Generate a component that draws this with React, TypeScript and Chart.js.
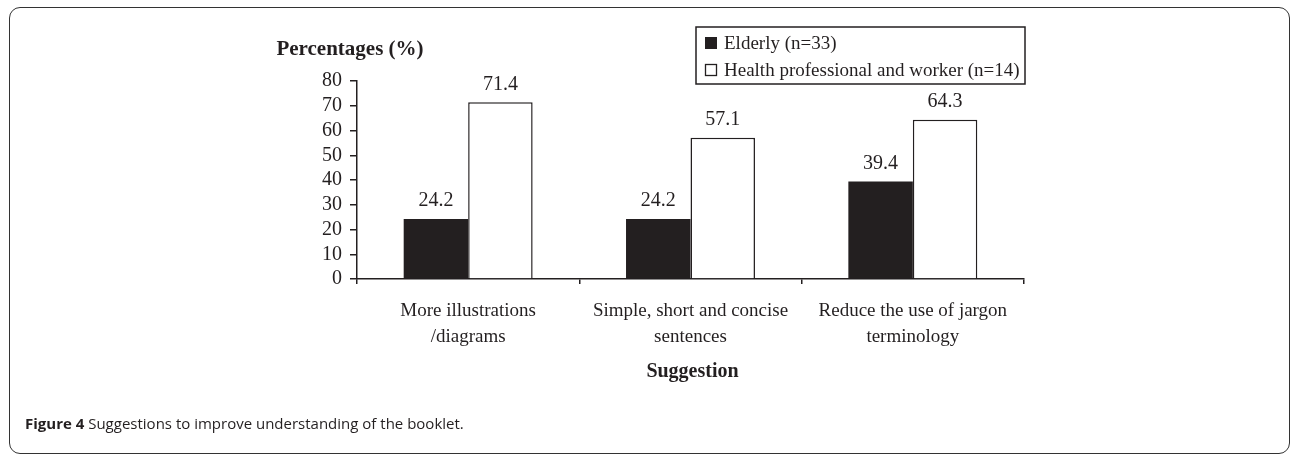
import React, { useEffect, useRef } from "react";
import { Chart, registerables } from "chart.js";

Chart.register(...registerables);

const categories: string[][] = [
  ["More illustrations", "/diagrams"],
  ["Simple, short and concise", "sentences"],
  ["Reduce the use of jargon", "terminology"],
];
const seriesNames = ["Elderly (n=33)", "Health professional and worker (n=14)"];
const elderlyValues = [24.2, 24.2, 39.4];
const professionalValues = [71.4, 57.1, 64.3];
const yMin = 0;
const yMax = 80;
const yStep = 10;
const yAxisTitle = "Percentages (%)";
const xAxisTitle = "Suggestion";
const captionBold = "Figure 4";
const captionText = " Suggestions to improve understanding of the booklet.";

const INK = "#231f20";
const SERIF = "'Liberation Serif', 'Times New Roman', serif";

const overlayPlugin = {
  id: "overlay",
  afterDraw(chart: any) {
    const ctx = chart.ctx;
    const area = chart.chartArea;
    ctx.save();
    ctx.fillStyle = INK;
    // value labels
    ctx.font = `20px ${SERIF}`;
    ctx.textAlign = "center";
    ctx.textBaseline = "middle";
    chart.data.datasets.forEach((ds: any, di: number) => {
      const meta = chart.getDatasetMeta(di);
      meta.data.forEach((el: any, i: number) => {
        ctx.fillText(String(ds.data[i].toFixed(1)), el.x, el.y - 18);
      });
    });
    // y axis title
    ctx.font = `bold 21px ${SERIF}`;
    ctx.fillText(yAxisTitle, area.left - 7, 50);
    // x axis title
    ctx.font = `bold 20px ${SERIF}`;
    ctx.fillText(xAxisTitle, (area.left + area.right) / 2 + 2, 372);
    // legend box
    const lx = 696, ly = 27, lw = 329, lh = 57;
    ctx.lineWidth = 1.5;
    ctx.strokeStyle = INK;
    ctx.strokeRect(lx, ly, lw, lh);
    ctx.font = `19px ${SERIF}`;
    ctx.textAlign = "left";
    chart.data.datasets.forEach((ds: any, di: number) => {
      const cy = 43 + di * 27;
      if (di === 0) {
        ctx.fillStyle = INK;
        ctx.fillRect(705, cy - 6, 12, 12);
      } else {
        ctx.fillStyle = "#ffffff";
        ctx.fillRect(705, cy - 6, 12, 12);
        ctx.lineWidth = 1.3;
        ctx.strokeRect(705.5, cy - 5.5, 11, 11);
      }
      ctx.fillStyle = INK;
      ctx.fillText(ds.label, 724, cy + 1);
    });
    ctx.restore();
  },
};

export default function App() {
  const ref = useRef<HTMLCanvasElement | null>(null);
  useEffect(() => {
    document.body.style.margin = "0";
    if (!ref.current) return;
    const chart = new Chart(ref.current, {
      type: "bar",
      data: {
        labels: categories,
        datasets: [
          {
            label: seriesNames[0],
            data: elderlyValues,
            backgroundColor: INK,
            borderWidth: 0,
          },
          {
            label: seriesNames[1],
            data: professionalValues,
            backgroundColor: "#ffffff",
            borderColor: INK,
            borderWidth: 1.5,
          },
        ],
      },
      options: {
        animation: false,
        responsive: false,
        devicePixelRatio: 1,
        layout: { padding: { top: 81, right: 266, left: 0, bottom: 0 } },
        plugins: {
          legend: { display: false },
          tooltip: { enabled: false },
          title: { display: false },
        },
        datasets: {
          bar: { categoryPercentage: 0.58, barPercentage: 1.0 },
        },
        scales: {
          x: {
            type: "category",
            offset: true,
            grid: {
              offset: true,
              drawOnChartArea: false,
              drawTicks: true,
              tickLength: 5,
              color: INK,
              lineWidth: 1.5,
            },
            border: { color: INK, width: 1.5 },
            ticks: {
              color: INK,
              font: { family: SERIF, size: 19, lineHeight: 1.37 },
              padding: 14,
              maxRotation: 0,
              autoSkip: false,
            },
            afterFit: (s: any) => {
              s.height = 175;
            },
          },
          y: {
            min: yMin,
            max: yMax,
            grid: {
              drawOnChartArea: false,
              drawTicks: true,
              tickLength: 7,
              color: INK,
              lineWidth: 1.5,
            },
            border: { color: INK, width: 1.5 },
            ticks: {
              stepSize: yStep,
              autoSkip: false,
              color: INK,
              font: { family: SERIF, size: 20 },
              padding: 8,
            },
            afterFit: (s: any) => {
              s.width = 357;
            },
          },
        },
      },
      plugins: [overlayPlugin],
    } as any);
    return () => chart.destroy();
  }, []);

  return (
    <div style={{ position: "relative", width: 1290, height: 454, overflow: "hidden", background: "#fff" }}>
      <div
        style={{
          position: "absolute",
          left: 9,
          top: 7,
          width: 1281,
          height: 447,
          boxSizing: "border-box",
          border: "1.5px solid #333",
          borderRadius: 11,
        }}
      />
      <canvas ref={ref} width={1290} height={454} style={{ position: "absolute", left: 0, top: 0 }} />
      <div
        style={{
          position: "absolute",
          left: 25,
          top: 413,
          lineHeight: "20px",
          fontFamily: "'Open Sans', 'Noto Sans', sans-serif",
          fontSize: 15,
          color: INK,
          whiteSpace: "nowrap",
        }}
      >
        <b>{captionBold}</b>
        {captionText}
      </div>
    </div>
  );
}
